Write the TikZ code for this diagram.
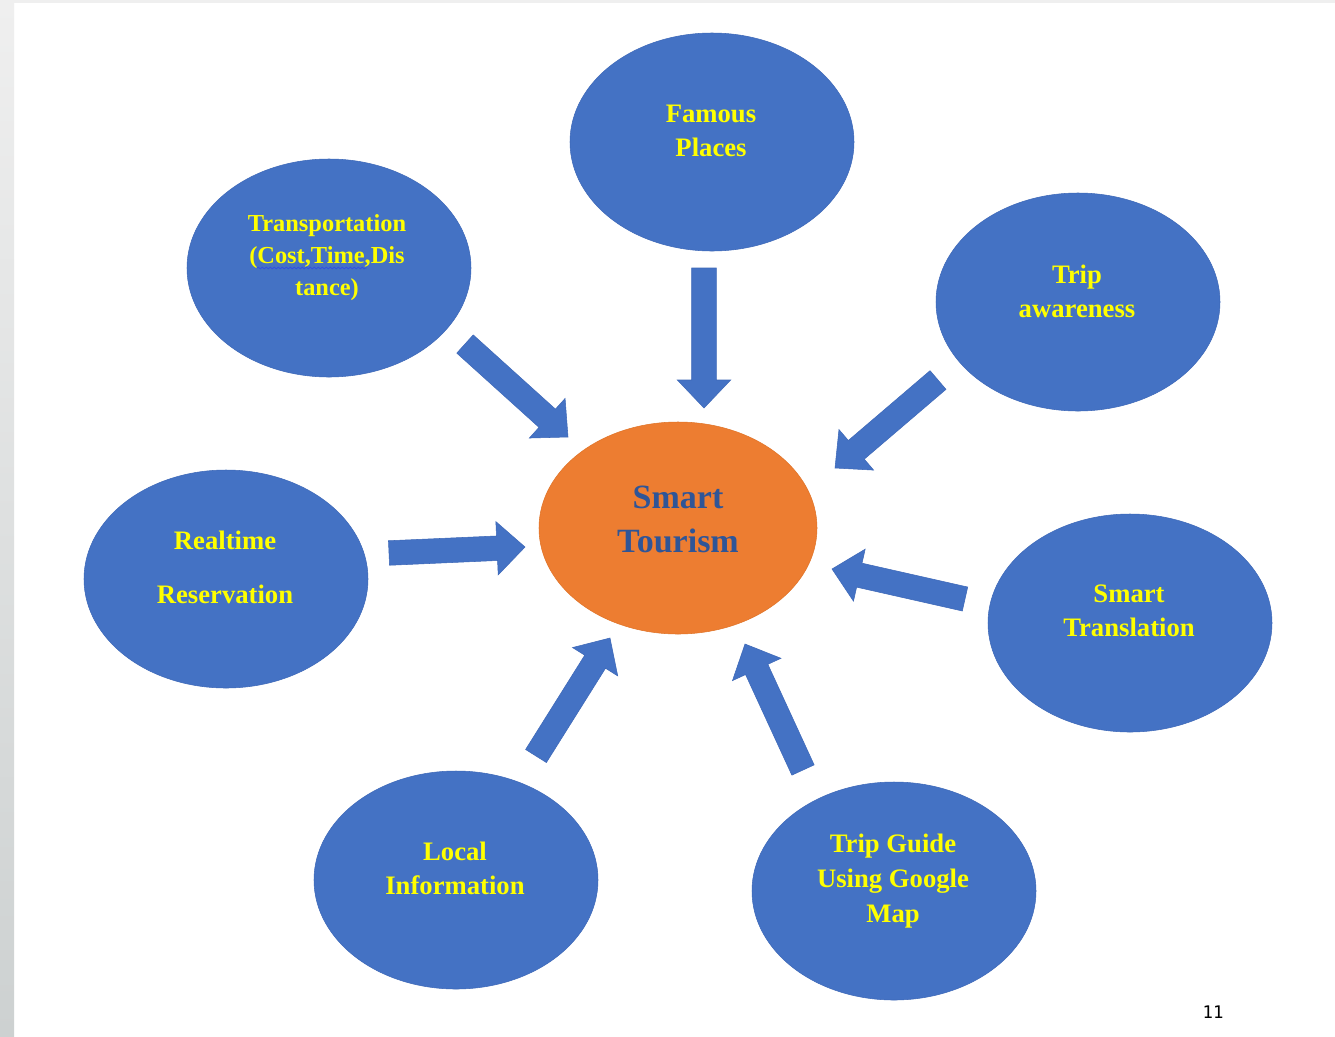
\documentclass[tikz,border=0pt]{standalone}
\usepackage{fontspec}
\setmainfont{Liberation Serif}
\newfontfamily\monofnt{DejaVu Sans Mono}
\usetikzlibrary{shapes.geometric,calc,decorations.pathmorphing}
\definecolor{bblue}{HTML}{4472C4}
\definecolor{bedge}{HTML}{3D68B8}
\definecolor{oorange}{HTML}{ED7D31}
\definecolor{oedge}{HTML}{E07428}
\definecolor{dblue}{HTML}{2F5597}
\definecolor{ytext}{HTML}{FFFF00}
\definecolor{spellblue}{HTML}{3050E0}
\definecolor{stripTop}{HTML}{EFEFEF}
\definecolor{stripBot}{HTML}{CDD1D1}
\tikzset{
  bubble/.style={ellipse, fill=bblue, draw=bedge, line width=0.4pt, minimum width=213pt, minimum height=163.5pt, inner sep=0pt},
  hub/.style={ellipse, fill=oorange, draw=oedge, line width=0.4pt, minimum width=208.5pt, minimum height=159pt, inner sep=0pt},
  ytxt/.style={text=ytext, font=\fontsize{20}{25.5}\selectfont\bfseries, align=center, inner sep=0pt},
  arrowfill/.style={fill=bblue, draw=bedge, line width=0.4pt, line join=miter},
}
\newcommand{\blockarrow}[2]{%
  \coordinate (#1h) at ($(#2)!21pt!(#1)$);
  \path[arrowfill] ($(#1)!9.2pt!90:(#2)$)
    -- ($(#1h)!9.2pt!90:(#2)$)
    -- ($(#1h)!20pt!90:(#2)$)
    -- (#2)
    -- ($(#1h)!20pt!-90:(#2)$)
    -- ($(#1h)!9.2pt!-90:(#2)$)
    -- ($(#1)!9.2pt!-90:(#2)$) -- cycle;
}
\begin{document}
\begin{tikzpicture}[x=0.75pt,y=-0.75pt]
\useasboundingbox (0,0) rectangle (1335,1036);
\fill[white] (0,0) rectangle (1335,1036);
\fill[top color=stripTop, bottom color=stripBot] (0,0) rectangle (14,1036);
\fill[stripTop] (0,0) rectangle (1335,3);

% bubbles
\node[bubble] (famous) at (712,142) {};
\node[bubble] (transport) at (329,268) {};
\node[bubble] (trip) at (1078,302) {};
\node[bubble] (realtime) at (226,579) {};
\node[bubble] (translation) at (1130,623) {};
\node[bubble] (local) at (456,880) {};
\node[bubble] (guide) at (894,891) {};
\node[hub] (hub) at (678,528) {};

% texts
\node[ytxt] (famousT) at (711,131) {Famous\\Places};
\node[ytxt, font=\fontsize{18.3}{24}\selectfont\bfseries] (transportT) at (327,258) {Transportation\\(Cost,Time,Dis\\tance)};
\node[ytxt] (tripT) at (1077,291) {Trip\\awareness};
\node[ytxt, font=\fontsize{20}{40.5}\selectfont\bfseries] (realtimeT) at (225,567) {Realtime\\Reservation};
\node[ytxt] (translationT) at (1129,611) {Smart\\Translation};
\node[ytxt] (localT) at (455,868) {Local\\Information};
\node[ytxt, font=\fontsize{20}{26}\selectfont\bfseries] (guideT) at (893,881) {Trip Guide\\Using Google\\Map};
\node[text=dblue, font=\fontsize{25.5}{33}\selectfont\bfseries, align=center, inner sep=0pt] (hubT) at (678,519) {Smart\\Tourism};

% spell-check underline
\coordinate (sp1) at (257,268);
\coordinate (sp2) at (367,268);
\draw[spellblue, line width=0.6pt, decorate, decoration={snake, amplitude=0.6pt, segment length=3pt}] (sp1) -- (sp2);

% arrows
\coordinate (a1) at (704,268); \coordinate (a1t) at (704,408);
\coordinate (a2) at (465,344); \coordinate (a2t) at (568,437);
\coordinate (a3) at (938,380); \coordinate (a3t) at (835,468);
\coordinate (a4) at (389,553); \coordinate (a4t) at (525,547);
\coordinate (a5) at (965,599); \coordinate (a5t) at (832,569);
\coordinate (a6) at (536,756); \coordinate (a6t) at (610,638);
\coordinate (a7) at (803,770); \coordinate (a7t) at (745,644);
\blockarrow{a1}{a1t}
\blockarrow{a2}{a2t}
\blockarrow{a3}{a3t}
\blockarrow{a4}{a4t}
\blockarrow{a5}{a5t}
\blockarrow{a6}{a6t}
\blockarrow{a7}{a7t}

% page number
\node[font=\monofnt\fontsize{13}{15}\selectfont, inner sep=0pt] (pagenum) at (1213,1012) {11};
\end{tikzpicture}
\end{document}
